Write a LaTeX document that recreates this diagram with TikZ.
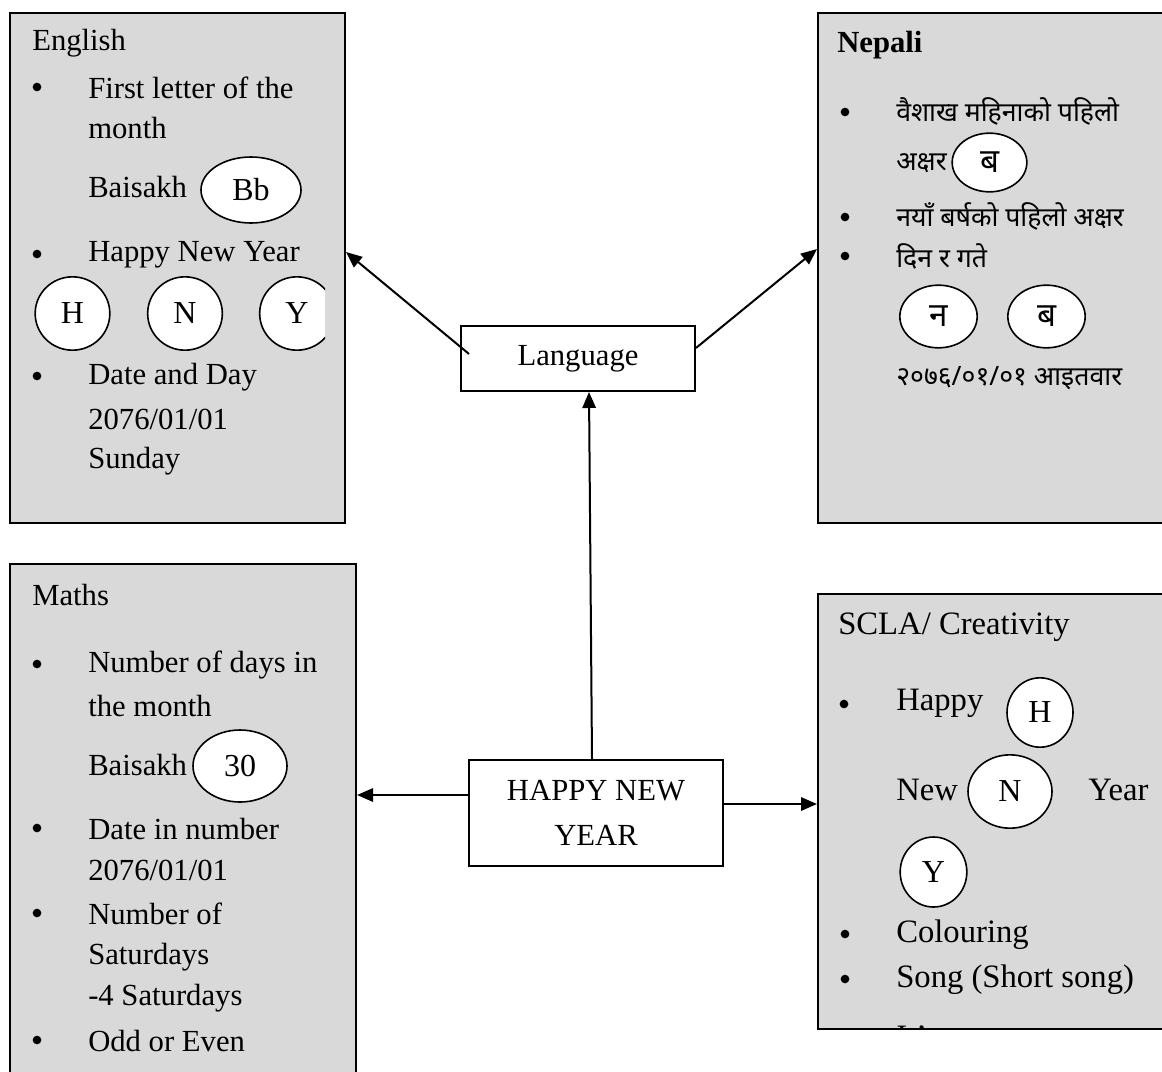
\documentclass[tikz,border=0pt]{standalone}
\usepackage{fontspec}
\setmainfont{Liberation Serif}
\newfontfamily\deva[Script=Devanagari]{Noto Sans}
\usetikzlibrary{arrows.meta,shapes.geometric,calc}
\definecolor{panelgray}{RGB}{217,217,217}
\newcommand{\mainsz}{\fontsize{23}{27}\selectfont}
\newcommand{\circsz}{\fontsize{24}{28}\selectfont}
\newcommand{\sclasz}{\fontsize{24.5}{29}\selectfont}
\newcommand{\devasz}{\fontsize{20}{24}\selectfont}
\newcommand{\devcsz}{\fontsize{25}{28}\selectfont}
\tikzset{
  panel/.style={draw, fill=panelgray, line width=1.5pt, inner sep=0},
  txt/.style={anchor=west, inner sep=0, font=\mainsz},
  stxt/.style={anchor=west, inner sep=0, font=\sclasz},
  dtxt/.style={anchor=west, inner sep=0, font=\deva\devasz},
  bul/.style={circle, fill=black, inner sep=0, minimum size=6.5pt},
  oval/.style={ellipse, draw, fill=white, line width=1.2pt, inner sep=0, font=\circsz},
  doval/.style={ellipse, draw, fill=white, line width=1.2pt, inner sep=0, font=\deva\bfseries\devcsz},
  cbox/.style={draw, fill=white, line width=1.5pt, inner sep=0, align=center},
  conn/.style={line width=1.5pt, -{Triangle[length=12pt,width=10pt]}},
}
\begin{document}
\begin{tikzpicture}[x=0.75pt,y=-0.75pt]
\useasboundingbox (0,0) rectangle (1162,1071);
\clip (0,0) rectangle (1162,1071);
\fill[white] (0,0) rectangle (1162,1071);

% panels
\node[panel, minimum width=251.25pt, minimum height=382.5pt] (english) at (177.5,268) {};
\node[panel, minimum width=286.5pt, minimum height=382.5pt] (nepali) at (1009,268) {};
\node[panel, minimum width=259.5pt, minimum height=402pt] (maths) at (183,832) {};
\node[panel, minimum width=286.5pt, minimum height=326.25pt] (scla) at (1009,811.5) {};

% central boxes
\node[cbox, minimum width=175.5pt, minimum height=48.75pt, font=\mainsz] (lang) at (578,358.5) {Language};
\node[cbox, minimum width=190.5pt, minimum height=79.5pt, font=\mainsz] (hny) at (596,813) {HAPPY NEW\\[7pt]YEAR};

% connectors
\draw[conn] ([xshift=-3pt]hny.north) -- ([xshift=8.25pt]lang.south);
\draw[conn] ([xshift=6.75pt,yshift=3.4pt]lang.west) -- ([yshift=12pt]english.east);
\draw[conn] ([yshift=7.9pt]lang.east) -- ([yshift=14.25pt]nepali.west);
\draw[conn] ([yshift=13.5pt]hny.west) -- ([yshift=13.5pt]hny.west -| maths.east);
\draw[conn] ([yshift=6.75pt]hny.east) -- ([yshift=6.75pt]hny.east -| scla.west);

% English panel
\node[txt] (e0) at (32,43) {English};
\node[bul] (eb1) at (37,87) {};
\node[txt] (e1) at (88,88) {First letter of the};
\node[txt] (e2) at (88,128) {month};
\node[txt] (e3) at (88,187) {Baisakh};
\node[oval, minimum width=75pt, minimum height=49.5pt] (e4) at (251,190) {Bb};
\node[bul] (eb2) at (37,254) {};
\node[txt] (e5) at (88,255) {Happy New Year};
\begin{scope}
\clip (10,260) rectangle (325,360);
\node[oval, minimum width=56pt, minimum height=55pt] (eh) at (72.5,313.5) {H};
\node[oval, minimum width=56pt, minimum height=55pt] (en) at (185,313.5) {N};
\node[oval, minimum width=56pt, minimum height=55pt] (ey) at (297,313.5) {Y};
\end{scope}
\node[bul] (eb3) at (37,376) {};
\node[txt] (e6) at (88,377) {Date and Day};
\node[txt] (e7) at (88,419) {2076/01/01};
\node[txt] (e8) at (88,461) {Sunday};

% Nepali panel
\node[txt, font=\mainsz\bfseries] (n0) at (837,45) {Nepali};
\node[bul] (nb1) at (845,112) {};
\node[dtxt] (n1) at (896,111) {वैशाख महिनाको पहिलो};
\node[dtxt] (n2) at (896,163) {अक्षर};
\node[doval, minimum width=56pt, minimum height=44pt] (n2c) at (989.5,162.5) {ब};
\node[bul] (nb2) at (845,217) {};
\node[dtxt] (n3) at (896,216) {नयाँ बर्षको पहिलो अक्षर};
\node[bul] (nb3) at (845,256) {};
\node[dtxt] (n4) at (896,256) {दिन र गते};
\node[doval, minimum width=58pt, minimum height=47pt] (nn) at (938.5,316.5) {न};
\node[doval, minimum width=58pt, minimum height=47pt] (nbb) at (1046.5,316.5) {ब};
\node[dtxt] (n5) at (896,378) {२०७६/०१/०१ आइतवार};

% Maths panel
\node[txt] (m0) at (32,595) {Maths};
\node[bul] (mb1) at (37,664) {};
\node[txt] (m1) at (88,665) {Number of days in};
\node[txt] (m2) at (88,706) {the month};
\node[txt] (m3) at (88,765) {Baisakh};
\node[oval, minimum width=70.5pt, minimum height=54pt] (m3c) at (240,766) {30};
\node[bul] (mb2) at (37,828) {};
\node[txt] (m4) at (88,829) {Date in number};
\node[txt] (m5) at (88,870) {2076/01/01};
\node[bul] (mb3) at (37,913) {};
\node[txt] (m6) at (88,914) {Number of};
\node[txt] (m7) at (88,957) {Saturdays};
\node[txt] (m8) at (88,998) {-4 Saturdays};
\node[bul] (mb4) at (37,1040) {};
\node[txt] (m9) at (88,1041) {Odd or Even};

% SCLA panel
\node[stxt] (s0) at (838,627) {SCLA/ Creativity};
\node[bul] (sb1) at (844,704) {};
\node[stxt] (s1) at (896,703) {Happy};
\node[oval, minimum width=49.5pt, minimum height=52pt] (sh) at (1040,712.5) {H};
\node[stxt] (s2) at (896,790) {New};
\node[oval, minimum width=63pt, minimum height=55pt] (sn) at (1010,791.5) {N};
\node[stxt] (s3) at (1088,790) {Year};
\node[oval, minimum width=50pt, minimum height=52.5pt] (sy) at (933.5,872) {Y};
\node[bul] (sb2) at (845,934) {};
\node[stxt] (s4) at (896,935) {Colouring};
\node[bul] (sb3) at (845,979) {};
\node[stxt] (s5) at (896,980) {Song (Short song)};
\begin{scope}
\clip (819,990) rectangle (1162,1027);
\node[stxt] (s6) at (896,1037) {It's};
\end{scope}
\end{tikzpicture}
\end{document}
